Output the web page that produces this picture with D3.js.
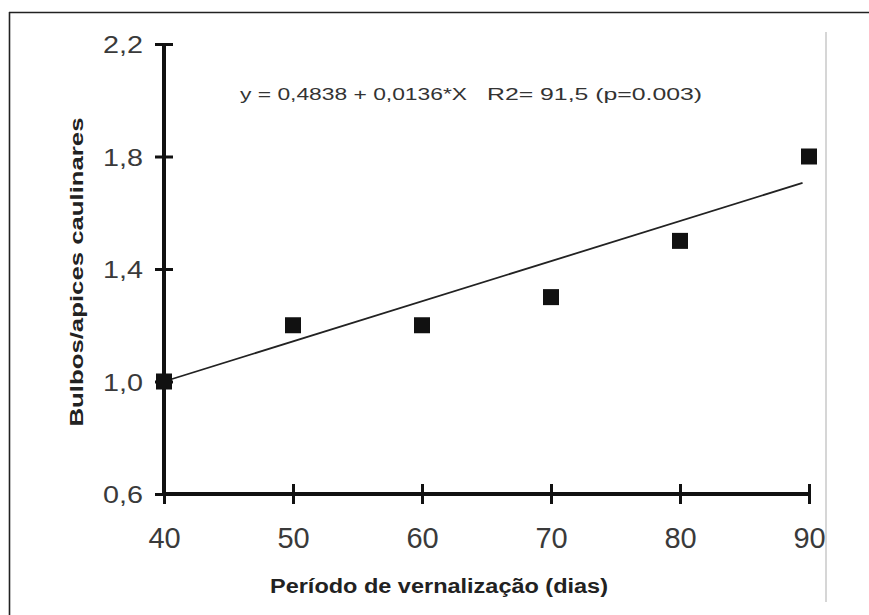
<!DOCTYPE html>
<html>
<head>
<meta charset="utf-8">
<script src="https://cdn.jsdelivr.net/npm/d3@7/dist/d3.min.js"></script>
<style>
  html, body { margin: 0; padding: 0; background: #fff; }
  svg { display: block; }
  text { font-family: "Liberation Sans", Arial, sans-serif; }
</style>
</head>
<body>
<svg id="chart" width="869" height="615"></svg>
<script>
// Data
const days = [40, 50, 60, 70, 80, 90];
const bulbs = [1.0, 1.2, 1.2, 1.3, 1.5, 1.8];
const fitX = [40, 89.5];
const fitY = [1.0, 1.706];
const xTicks = [40, 50, 60, 70, 80, 90];
const yTicks = [0.6, 1.0, 1.4, 1.8, 2.2];
const yTickLabels = ["0,6", "1,0", "1,4", "1,8", "2,2"];
const equationText = "y = 0,4838 + 0,0136*X";
const r2Text = "R2= 91,5 (p=0.003)";
const xTitle = "Período de vernalização (dias)";
const yTitle = "Bulbos/apices caulinares";

const svg = d3.select("#chart");

// frame
svg.append("line").attr("x1", 9).attr("x2", 869).attr("y1", 12.5).attr("y2", 12.5)
  .attr("stroke", "#222").attr("stroke-width", 1.6);
svg.append("line").attr("x1", 9.5).attr("x2", 9.5).attr("y1", 12).attr("y2", 615)
  .attr("stroke", "#222").attr("stroke-width", 1.6);
svg.append("line").attr("x1", 826).attr("x2", 826).attr("y1", 32).attr("y2", 602)
  .attr("stroke", "#c8c8c8").attr("stroke-width", 1.5);

const x = d3.scaleLinear().domain([40, 90]).range([164, 809]);
const y = d3.scaleLinear().domain([0.6, 2.2]).range([494, 44]);

// y axis
const yAxis = svg.append("g").attr("transform", `translate(${x(40)},0)`)
  .call(d3.axisLeft(y).tickValues(yTicks).tickSize(0).tickFormat((d, i) => yTickLabels[i]));
yAxis.select(".domain").remove();
yAxis.append("line").attr("x1", 0).attr("x2", 0).attr("y1", y(2.2)).attr("y2", y(0.6))
  .attr("stroke", "#111").attr("stroke-width", 4);
yAxis.selectAll(".tick").append("line").attr("x1", -9).attr("x2", 9)
  .attr("stroke", "#111").attr("stroke-width", 3);
yAxis.selectAll(".tick text")
  .attr("x", -21).attr("dy", "0.36em")
  .attr("font-size", 24).attr("fill", "#3a3a3a")
  .attr("textLength", 40).attr("lengthAdjust", "spacingAndGlyphs")
  .style("font-family", "'Liberation Sans', Arial, sans-serif");

// x axis
const xAxis = svg.append("g").attr("transform", `translate(0,${y(0.6)})`)
  .call(d3.axisBottom(x).tickValues(xTicks).tickSize(0).tickFormat(d3.format("d")));
xAxis.select(".domain").remove();
xAxis.append("line").attr("x1", x(40)).attr("x2", x(90)).attr("y1", 0).attr("y2", 0)
  .attr("stroke", "#111").attr("stroke-width", 4);
xAxis.selectAll(".tick").append("line").attr("y1", -10).attr("y2", 10)
  .attr("stroke", "#111").attr("stroke-width", 3);
xAxis.selectAll(".tick text")
  .attr("y", 54).attr("dy", 0)
  .attr("font-size", 29).attr("fill", "#3a3a3a")
  .style("font-family", "'Liberation Sans', Arial, sans-serif");

// regression line
svg.append("line")
  .attr("x1", x(fitX[0])).attr("y1", y(fitY[0]))
  .attr("x2", x(fitX[1])).attr("y2", y(fitY[1]))
  .attr("stroke", "#222").attr("stroke-width", 1.8);

// markers
const ms = 16;
svg.selectAll("rect.pt").data(days).join("rect").attr("class", "pt")
  .attr("x", (d) => x(d) - ms / 2)
  .attr("y", (d, i) => y(bulbs[i]) - ms / 2)
  .attr("width", ms).attr("height", ms)
  .attr("fill", "#111");

// equation
svg.append("text").attr("x", 240).attr("y", 100)
  .attr("font-size", 16).attr("fill", "#333")
  .attr("textLength", 227).attr("lengthAdjust", "spacingAndGlyphs")
  .text(equationText);
svg.append("text").attr("x", 487).attr("y", 100)
  .attr("font-size", 16).attr("fill", "#333")
  .attr("textLength", 215).attr("lengthAdjust", "spacingAndGlyphs")
  .text(r2Text);

// axis titles
svg.append("text").attr("x", 439).attr("y", 593)
  .attr("text-anchor", "middle").attr("font-size", 20).attr("font-weight", "bold")
  .attr("fill", "#222")
  .attr("textLength", 338).attr("lengthAdjust", "spacingAndGlyphs")
  .text(xTitle);
svg.append("text").attr("transform", "translate(83,272) rotate(-90)")
  .attr("text-anchor", "middle").attr("font-size", 19).attr("font-weight", "bold")
  .attr("fill", "#222")
  .attr("textLength", 309).attr("lengthAdjust", "spacingAndGlyphs")
  .text(yTitle);
</script>
</body>
</html>
